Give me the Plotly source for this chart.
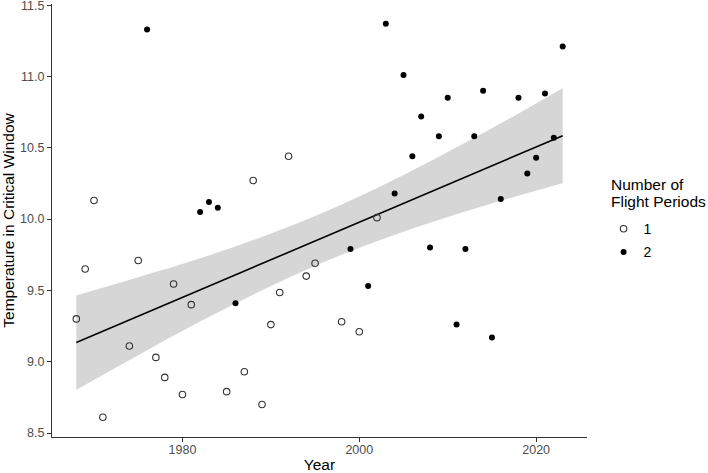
import numpy as np
import plotly.graph_objects as go

# ---- data ----
years_1 = [1968, 1969, 1970, 1971, 1974, 1975, 1977, 1978, 1979, 1980, 1981,
           1985, 1987, 1988, 1989, 1990, 1991, 1992, 1994, 1995, 1998, 2000, 2002]
temps_1 = [9.30, 9.65, 10.13, 8.61, 9.11, 9.71, 9.03, 8.89, 9.545, 8.77, 9.40,
           8.79, 8.93, 10.27, 8.70, 9.26, 9.485, 10.44, 9.60, 9.69, 9.28, 9.21, 10.01]

years_2 = [1976, 1982, 1983, 1984, 1986, 1999, 2001, 2003, 2004, 2005, 2006, 2007,
           2008, 2009, 2010, 2011, 2012, 2013, 2014, 2015, 2016, 2018, 2019, 2020,
           2021, 2022, 2023]
temps_2 = [11.33, 10.05, 10.12, 10.08, 9.41, 9.79, 9.53, 11.37, 10.18, 11.01, 10.44, 10.72,
           9.80, 10.58, 10.85, 9.26, 9.79, 10.58, 10.90, 9.17, 10.14, 10.85, 10.32, 10.43,
           10.88, 10.57, 11.21]

# fitted trend line and its 95% confidence band
fit_years = [1968, 2023]
fit_values = [9.134, 10.585]
band_years = [1968, 1975, 1982, 1989, 1996, 2003, 2010, 2016, 2023]
band_upper = [9.465, 9.592, 9.725, 9.875, 10.047, 10.247, 10.470, 10.671, 10.918]
band_lower = [8.803, 9.046, 9.281, 9.501, 9.699, 9.867, 10.014, 10.129, 10.252]

x_ticks = [1980, 2000, 2020]
y_ticks = [8.5, 9.0, 9.5, 10.0, 10.5, 11.0, 11.5]

# ggplot-style 5% expansion of the data range
x_all = np.array(years_1 + years_2, dtype=float)
y_all = np.array(temps_1 + temps_2, dtype=float)
xr = x_all.max() - x_all.min()
yr = y_all.max() - y_all.min()
x_range = [x_all.min() - 0.05 * xr, x_all.max() + 0.05 * xr]
y_range = [y_all.min() - 0.05 * yr, y_all.max() + 0.05 * yr]

fig = go.Figure()
fig.add_trace(go.Scatter(x=band_years, y=band_lower, mode="lines",
                         line=dict(width=0, shape="spline", color="#D6D6D6"),
                         hoverinfo="skip", showlegend=False))
fig.add_trace(go.Scatter(x=band_years, y=band_upper, mode="lines", fill="tonexty",
                         fillcolor="#D6D6D6",
                         line=dict(width=0, shape="spline", color="#D6D6D6"),
                         hoverinfo="skip", showlegend=False))
fig.add_trace(go.Scatter(x=fit_years, y=fit_values, mode="lines",
                         line=dict(color="black", width=1.6),
                         showlegend=False, hoverinfo="skip"))
fig.add_trace(go.Scatter(x=years_1, y=temps_1, mode="markers", name="1", legendgroup="1",
                         marker=dict(symbol="circle-open", size=6.5, color="#333333",
                                     line=dict(width=1.1, color="#333333"))))
fig.add_trace(go.Scatter(x=years_2, y=temps_2, mode="markers", name="2", legendgroup="2",
                         marker=dict(symbol="circle", size=6, color="black")))

axis_common = dict(showgrid=False, zeroline=False, showline=True, linecolor="#333333",
                   linewidth=1.1, ticks="outside", ticklen=4, tickcolor="#333333",
                   tickwidth=1.1, tickfont=dict(size=12.5, color="#4D4D4D"),
                   ticklabeloverflow="allow", automargin=False)
fig.update_xaxes(range=x_range, tickvals=x_ticks, ticktext=[str(v) for v in x_ticks],
                 ticklabelstandoff=-3,
                 title=dict(text="Year", font=dict(size=15.5, color="black"), standoff=8),
                 **axis_common)
fig.update_yaxes(range=y_range, tickvals=y_ticks, ticktext=[f"{v:.1f}" for v in y_ticks],
                 title=dict(text="Temperature in Critical Window",
                            font=dict(size=15.5, color="black"), standoff=7),
                 **axis_common)

legend_title_lines = ["Number of", "Flight Periods"]
annotations = []
for i, line in enumerate(legend_title_lines):
    annotations.append(dict(text=line, xref="paper", yref="paper", x=1.042,
                            y=0.584 - i * 0.0395, xanchor="left", yanchor="middle",
                            showarrow=False, font=dict(size=15.5, color="black")))

fig.update_layout(
    width=708, height=473,
    margin=dict(l=52, r=121, t=4, b=36),
    paper_bgcolor="white", plot_bgcolor="white",
    font=dict(family="Liberation Sans, Arial, sans-serif"),
    annotations=annotations,
    legend=dict(x=1.031, y=0.517, xanchor="left", yanchor="top",
                font=dict(size=14, color="black"), itemwidth=30, tracegroupgap=2),
)

fig.write_html("out.html")
